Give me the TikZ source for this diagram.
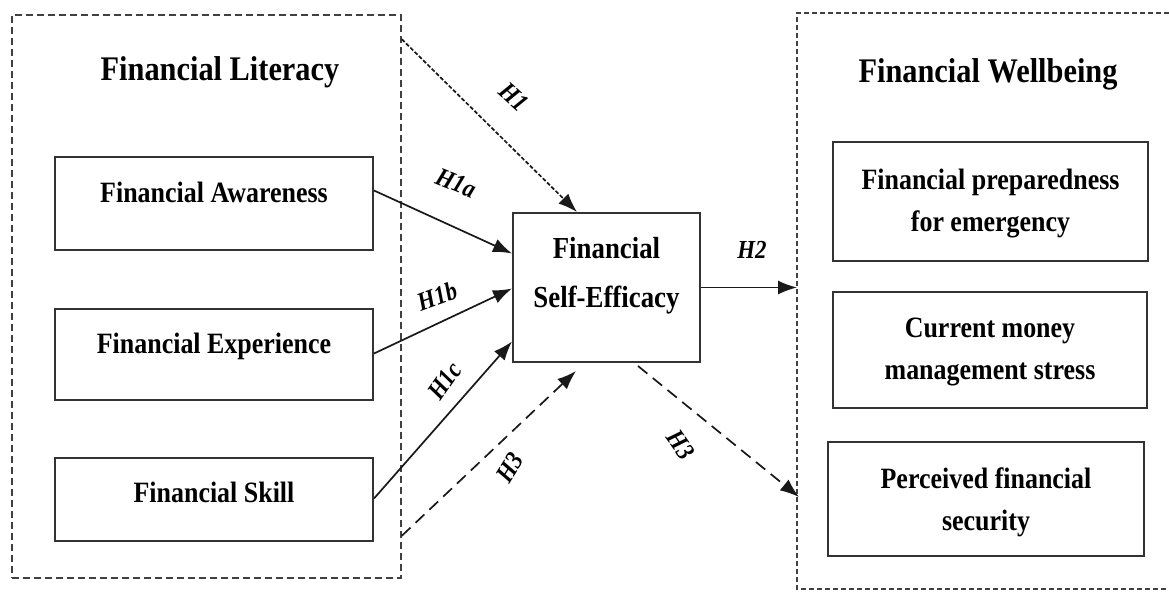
\documentclass[tikz,border=0pt]{standalone}
\usepackage{fontspec}
\setmainfont{Liberation Serif}[FakeStretch=0.88]
\usetikzlibrary{arrows.meta,calc}

\tikzset{
  boxtext/.style={font=\bfseries\fontsize{29.5}{42}\selectfont, align=center},
  itembox/.style={draw=black!80, line width=2pt, rectangle, boxtext},
  groupbox/.style={draw=black!75, line width=1.6pt, dash pattern=on 7pt off 4pt},
  title/.style={font=\bfseries\fontsize{34.5}{40}\selectfont},
  hyp/.style={font=\bfseries\itshape\fontsize{26}{28}\selectfont, inner sep=1pt},
  link/.style={line width=1.7pt, draw=black!90, -{Latex[length=19pt,width=14pt]}},
  dotlink/.style={link, dash pattern=on 4pt off 2pt},
  dashlink/.style={link, dash pattern=on 12pt off 7pt},
}

\begin{document}
\begin{tikzpicture}[x=1pt, y=-1pt]
  \useasboundingbox (0,0) rectangle (1169,592);
  \fill[white] (0,0) rectangle (1169,592);

  % group frames
  \node[groupbox, minimum width=389pt, minimum height=563pt, inner sep=0pt] (lit) at (206.5,296.5) {};
  \coordinate (wbtl) at (797,13);
  \coordinate (wbbl) at (797,589);
  \draw[groupbox, dash pattern=on 5pt off 3pt, line width=1.3pt]
    (1169,13) -- (wbtl) -- (wbbl) -- (1169,589);

  \node[title] (littitle) at (220,72) {Financial Literacy};
  \node[title] (wbtitle) at (988,74) {Financial Wellbeing};

  % financial literacy dimensions
  \node[itembox, minimum width=318pt, minimum height=93pt] (aw) at (214,203.5) {};
  \node[boxtext] (awtext) at (214,192) {Financial Awareness};
  \node[itembox, minimum width=318pt, minimum height=91pt] (ex) at (214,354.5) {};
  \node[boxtext] (extext) at (214,346) {Financial Experience};
  \node[itembox, minimum width=318pt, minimum height=83pt] (sk) at (214,499.5) {};
  \node[boxtext] (sktext) at (214,492) {Financial Skill};

  % mediator
  \node[itembox, minimum width=187pt, minimum height=149pt] (fse) at (606.5,287.5) {};
  \node[boxtext, text width=187pt, font=\bfseries\fontsize{30.5}{49}\selectfont] (fsetext) at (606.5,276) {Financial\\Self-Efficacy};

  % financial wellbeing dimensions
  \node[itembox, minimum width=315pt, minimum height=119pt] (p1) at (990.5,201) {};
  \node[boxtext] (p1text) at (990.5,204) {Financial preparedness\\for emergency};
  \node[itembox, minimum width=314pt, minimum height=116pt] (p2) at (990,350) {};
  \node[boxtext] (p2text) at (990,352) {Current money\\management stress};
  \node[itembox, minimum width=316pt, minimum height=114pt] (p3) at (986,499) {};
  \node[boxtext] (p3text) at (986,502) {Perceived financial\\security};

  % paths
  \draw[dotlink] ($(lit.north east)+(0,25)$) -- ($(fse.north west)+(65,0)$);
  \draw[link] ($(aw.east)+(0,-13)$) -- ($(fse.west)+(0,-34)$);
  \draw[link] ($(ex.east)+(0,-1)$) -- ($(fse.west)+(0,1)$);
  \draw[link] ($(sk.east)+(0,-1)$) -- ($(fse.west)+(0,54)$);
  \draw[dashlink] ($(lit.south east)+(0,-43)$) -- ($(fse.south west)+(64,8)$);
  \draw[link] (fse.east) -- (fse.east -| wbtl);
  \draw[dashlink] ($(fse.south west)+(126,3)$) -- ($(wbtl)+(2,484)$);

  % hypothesis labels
  \node[hyp, rotate=-42] (lh1) at (514,97) {H1};
  \node[hyp, rotate=-22] (lh1a) at (456,183) {H1a};
  \node[hyp, rotate=20] (lh1b) at (437,296) {H1b};
  \node[hyp, rotate=55] (lh1c) at (445,381) {H1c};
  \node[hyp, rotate=58] (lh3a) at (510,468) {H3};
  \node[hyp] (lh2) at (752,250) {H2};
  \node[hyp, rotate=-55] (lh3b) at (681,445) {H3};
\end{tikzpicture}
\end{document}
